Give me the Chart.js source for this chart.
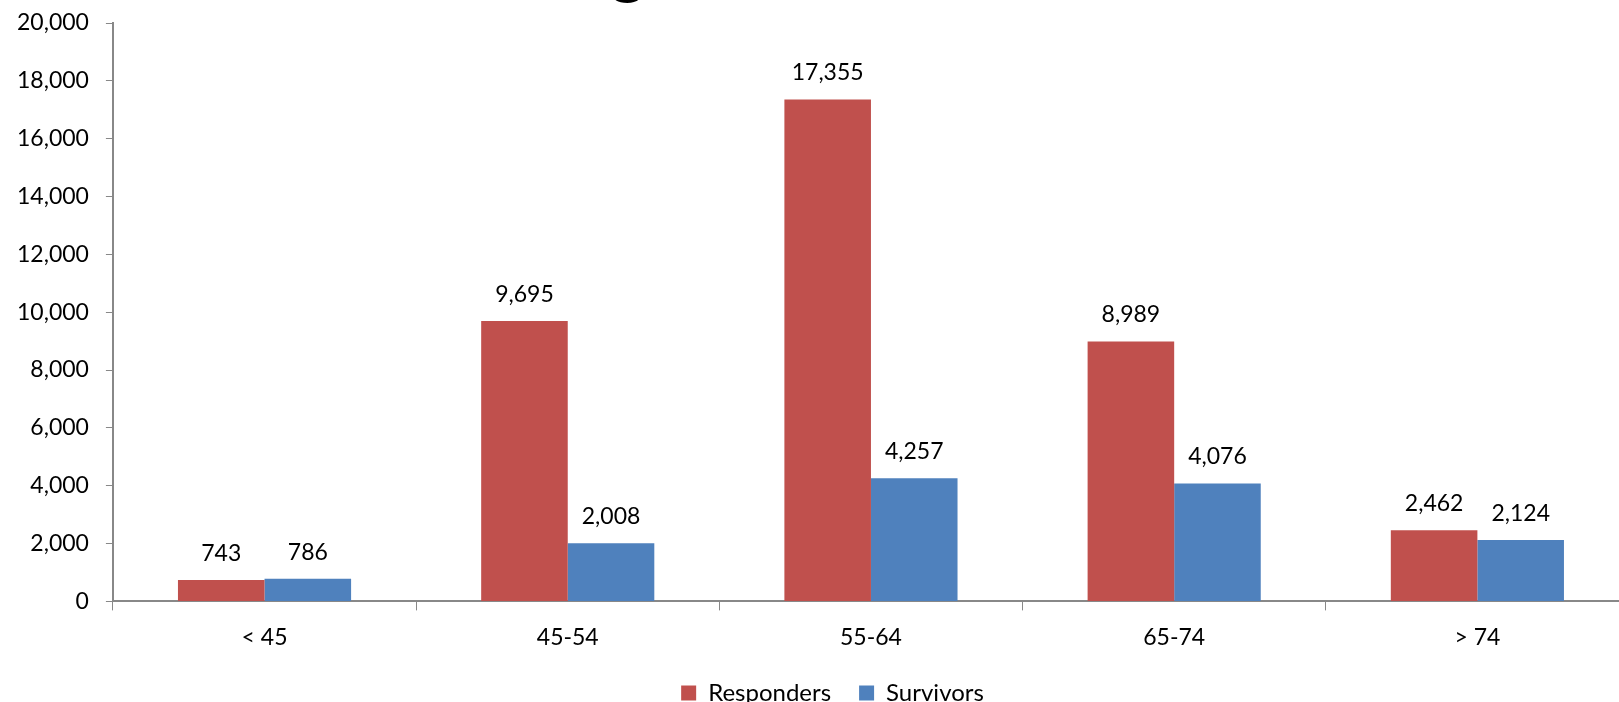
<!DOCTYPE html>
<html>
<head>
<meta charset="utf-8">
<script src="https://cdn.jsdelivr.net/npm/chart.js@4.4.1/dist/chart.umd.min.js"></script>
<style>
  html, body { margin: 0; padding: 0; background: #fff; overflow: hidden; }
  #wrap { width: 1662px; height: 702px; }
</style>
</head>
<body>
<div id="wrap"><canvas id="ageChart"></canvas></div>
<script>
const ageGroups = ['< 45', '45-54', '55-64', '65-74', '> 74'];
const responders = [743, 9695, 17355, 8989, 2462];
const survivors = [786, 2008, 4257, 4076, 2124];
const titleText = 'Age';

const FONT = 'Lato, "Open Sans", sans-serif';

// value labels above each bar
const barLabels = {
  id: 'barLabels',
  afterDatasetsDraw(chart) {
    const ctx = chart.ctx;
    ctx.save();
    ctx.font = '23px ' + FONT;
    ctx.fillStyle = '#000';
    ctx.textAlign = 'center';
    ctx.textBaseline = 'bottom';
    chart.data.datasets.forEach((ds, i) => {
      chart.getDatasetMeta(i).data.forEach((bar, j) => {
        ctx.fillText(ds.data[j].toLocaleString('en-US'), bar.x, bar.y - 15);
      });
    });
    ctx.restore();
  }
};

// title sits mostly above the visible area, only its descender shows
const cutTitle = {
  id: 'cutTitle',
  afterDraw(chart) {
    const ctx = chart.ctx;
    ctx.save();
    ctx.font = 'bold 64px ' + FONT;
    ctx.fillStyle = '#000';
    ctx.textBaseline = 'alphabetic';
    const wA = ctx.measureText('A').width;
    const wg = ctx.measureText('g').width;
    ctx.fillText(titleText, 628 - wA - wg / 2, -8);
    ctx.restore();
  }
};

// legend is a bit right of the canvas centre in the original
const nudgeLegend = {
  id: 'nudgeLegend',
  afterLayout(chart) {
    chart.legend.left += 18;
    chart.legend.right += 18;
  }
};

const ctx = document.getElementById('ageChart').getContext('2d');
new Chart(ctx, {
  type: 'bar',
  data: {
    labels: ageGroups,
    datasets: [
      { label: 'Responders', data: responders, backgroundColor: '#C0504D' },
      { label: 'Survivors', data: survivors, backgroundColor: '#4F81BD' }
    ]
  },
  options: {
    responsive: true,
    maintainAspectRatio: false,
    animation: false,
    categoryPercentage: 0.571,
    barPercentage: 1,
    layout: { padding: { top: 0, right: 33, left: 0, bottom: -13 } },
    plugins: {
      legend: {
        position: 'bottom',
        labels: {
          font: { family: FONT, size: 24 },
          color: '#000',
          boxWidth: 15,
          boxHeight: 15,
          padding: 28
        }
      },
      tooltip: { enabled: false }
    },
    scales: {
      x: {
        grid: { drawOnChartArea: false, color: '#888', tickLength: 9, offset: true },
        border: { color: '#888', width: 2 },
        ticks: { color: '#000', font: { family: FONT, size: 23 }, padding: 13 },
        afterFit: s => { s.height -= 11; }
      },
      y: {
        min: 0,
        max: 20000,
        grid: { drawOnChartArea: false, color: '#888', tickLength: 7 },
        border: { color: '#888', width: 2 },
        ticks: { stepSize: 2000, color: '#000', font: { family: FONT, size: 23 }, padding: 17 },
        afterFit: s => { s.paddingTop = 23; }
      }
    }
  },
  plugins: [barLabels, cutTitle, nudgeLegend]
});
</script>
</body>
</html>
